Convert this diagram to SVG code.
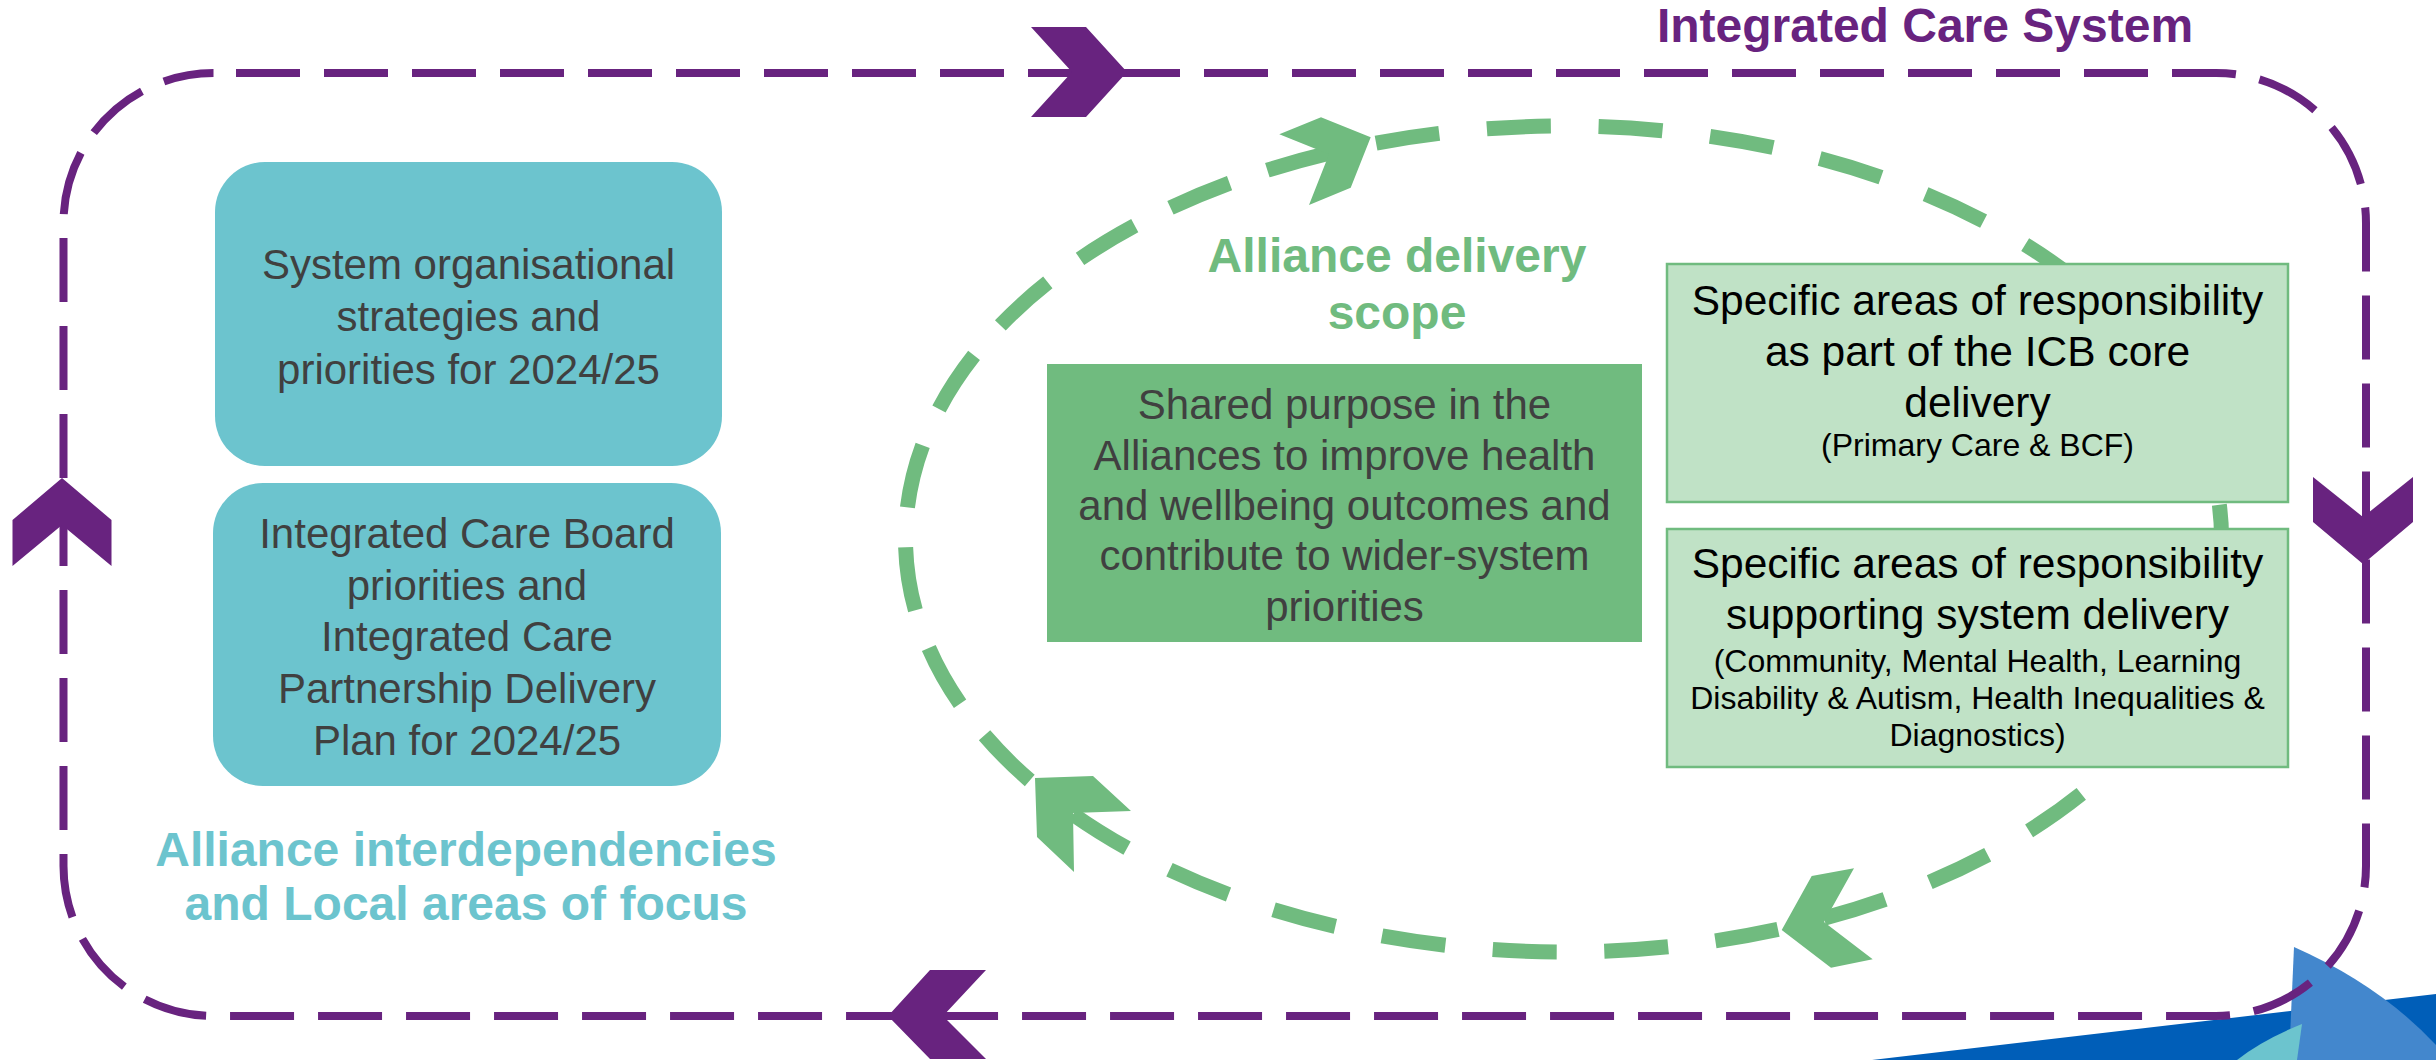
<svg xmlns="http://www.w3.org/2000/svg" width="2436" height="1060" viewBox="0 0 2436 1060">
  <style>
    text { font-family: "Liberation Sans", Arial, sans-serif; }
    .frame { fill: none; stroke: #68237F; stroke-width: 8; stroke-dasharray: 64 24; stroke-dashoffset: 65.5; }
    .pchev { fill: #68237F; }
    .loop { fill: none; stroke: #70BB7F; stroke-width: 15; }
    .gchev { fill: #70BB7F; }
    .teal { fill: #6CC4CE; }
    .teal-txt { font-size: 42px; fill: #404040; text-anchor: middle; }
    .core { fill: #70BB7F; }
    .core-txt { font-size: 42px; fill: #404040; text-anchor: middle; }
    .resp { fill: #C0E2C6; stroke: #70BB7F; stroke-width: 2.5; }
    .resp-big { font-size: 42.5px; fill: #000000; text-anchor: middle; }
    .resp-small { font-size: 32px; fill: #000000; text-anchor: middle; }
    .head { font-weight: bold; font-size: 48px; text-anchor: middle; }
  </style>

  <rect x="0" y="0" width="2436" height="1060" fill="#FFFFFF"/>

  <!-- corner decoration, bottom right -->
  <g id="corner-decoration">
    <polygon points="1872,1060 2436,994 2436,1060" fill="#005EB8"/>
    <path d="M2294,947 Q2380,985 2436,1045 L2436,1060 L2289,1060 Z" fill="#4387CD"/>
    <path d="M2302,1024 Q2262,1040 2237,1060 L2297,1060 Z" fill="#6CC4CE"/>
  </g>

  <!-- connectors: outer system loop and inner alliance loop -->
  <g id="connectors">
    <g id="system-loop">
      <rect class="frame" x="63.5" y="73" width="2302.5" height="943" rx="150" ry="150"/>
      <polygon class="pchev" points="1031,27 1086,27 1127,72 1086,117 1031,117 1072,72"/>
      <polygon class="pchev" points="2313,477 2363,517 2413,477 2413,522 2363,564 2313,522"/>
      <polygon class="pchev" points="986,970 930,970 888,1016 930,1059 986,1059 943,1016"/>
      <polygon class="pchev" points="62,478 111.5,520 111.5,566 62,525 12.5,566 12.5,520"/>
    </g>
    <!-- each arc is drawn back from its arrowhead notch so a dash sits in the notch -->
    <g id="alliance-loop">
      <path class="loop" stroke-dasharray="64 39.95" d="M1329,153.12 A658,413 0 0 0 1030,780.74"/>
      <path class="loop" stroke-dasharray="64 47.55" d="M1073,814.29 A658,413 0 0 0 1778,929.44"/>
      <path class="loop" stroke-dasharray="64 47.81" d="M1824,918.26 A658,413 0 0 0 1376,143.12"/>
      <polygon class="gchev" points="1370.7,137.3 1321,117.3 1279.3,134.3 1329,154.3 1309,205 1350.7,187.7"/>
      <polygon class="gchev" points="1035,778 1093,776 1131,811 1073,813 1074,872 1037,837"/>
      <polygon class="gchev" points="1781.7,930 1811.7,876 1854,868.3 1824,922 1872.7,959.3 1831,967.7"/>
    </g>
  </g>

  <!-- labels -->
  <g id="label-ics">
    <text class="head" x="1925" y="42" fill="#68237F">Integrated Care System</text>
  </g>
  <g id="label-alliance-scope">
    <text class="head" x="1397" y="272" fill="#70BB7F">Alliance delivery</text>
    <text class="head" x="1397" y="329" fill="#70BB7F">scope</text>
  </g>
  <g id="label-interdependencies">
    <text class="head" x="466" y="866" fill="#6CC4CE">Alliance interdependencies</text>
    <text class="head" x="466" y="920" fill="#6CC4CE">and Local areas of focus</text>
  </g>

  <!-- left column -->
  <g id="node-system-strategies">
    <rect class="teal" x="215" y="162" width="507" height="304" rx="50" ry="50"/>
    <text class="teal-txt" x="468.5" y="279">System organisational</text>
    <text class="teal-txt" x="468.5" y="331">strategies and</text>
    <text class="teal-txt" x="468.5" y="384">priorities for 2024/25</text>
  </g>
  <g id="node-icb-icp">
    <rect class="teal" x="213" y="483" width="508" height="303" rx="50" ry="50"/>
    <text class="teal-txt" x="467" y="548">Integrated Care Board</text>
    <text class="teal-txt" x="467" y="600">priorities and</text>
    <text class="teal-txt" x="467" y="651">Integrated Care</text>
    <text class="teal-txt" x="467" y="703">Partnership Delivery</text>
    <text class="teal-txt" x="467" y="755">Plan for 2024/25</text>
  </g>

  <!-- centre -->
  <g id="node-shared-purpose">
    <rect class="core" x="1047" y="364" width="595" height="278"/>
    <text class="core-txt" x="1344.5" y="419">Shared purpose in the</text>
    <text class="core-txt" x="1344.5" y="470">Alliances to improve health</text>
    <text class="core-txt" x="1344.5" y="520">and wellbeing outcomes and</text>
    <text class="core-txt" x="1344.5" y="570">contribute to wider-system</text>
    <text class="core-txt" x="1344.5" y="621">priorities</text>
  </g>

  <!-- right column -->
  <g id="node-icb-core">
    <rect class="resp" x="1667" y="264" width="621" height="238"/>
    <text class="resp-big" x="1977.5" y="315">Specific areas of responsibility</text>
    <text class="resp-big" x="1977.5" y="366">as part of the ICB core</text>
    <text class="resp-big" x="1977.5" y="417">delivery</text>
    <text class="resp-small" x="1977.5" y="456">(Primary Care &amp; BCF)</text>
  </g>
  <g id="node-system-delivery">
    <rect class="resp" x="1667" y="529" width="621" height="238"/>
    <text class="resp-big" x="1977.5" y="578">Specific areas of responsibility</text>
    <text class="resp-big" x="1977.5" y="629">supporting system delivery</text>
    <text class="resp-small" x="1977.5" y="672">(Community, Mental Health, Learning</text>
    <text class="resp-small" x="1977.5" y="709">Disability &amp; Autism, Health Inequalities &amp;</text>
    <text class="resp-small" x="1977.5" y="746">Diagnostics)</text>
  </g>
</svg>
